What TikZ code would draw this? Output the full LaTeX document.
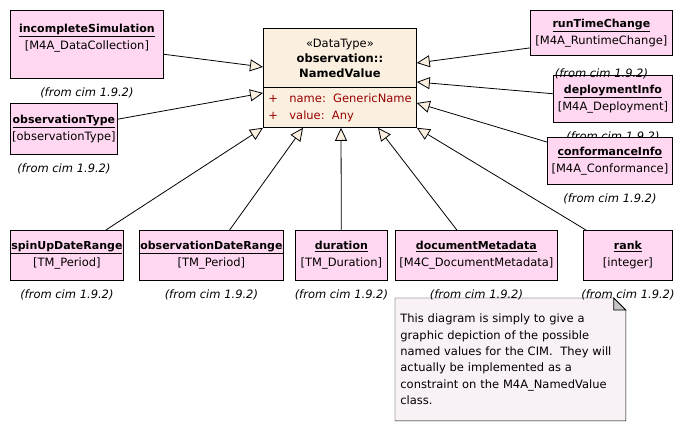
\documentclass[tikz,border=0pt]{standalone}
\usepackage{fontspec}
\setmainfont{DejaVu Sans}
\usetikzlibrary{positioning,arrows.meta,backgrounds}

\definecolor{clspink}{RGB}{255,215,240}
\definecolor{dtcream}{RGB}{251,240,224}
\definecolor{notefill}{RGB}{248,241,246}
\definecolor{attrred}{RGB}{153,0,0}

\newcommand{\clsname}[1]{\underline{\fontsize{11}{17}\selectfont\bfseries #1}}

\begin{document}
\begin{tikzpicture}[
            x=1pt, y=-1pt,
            cls/.style={draw,fill=clspink,rectangle,anchor=north west,inner sep=0pt,minimum height=50pt,align=center,font=\fontsize{11.5}{17}\selectfont},
            dt/.style={draw,fill=dtcream,rectangle,anchor=north west,inner sep=0pt},
            from/.style={inner sep=0pt,font=\fontsize{11.5}{14}\selectfont\itshape},
            attr/.style={anchor=west,inner sep=0pt,align=left,text=attrred,font=\fontsize{11.5}{17}\selectfont},
            gen/.style={-{Triangle[length=13pt,width=12pt,fill=dtcream]}},
            line width=0.8pt
        ]

        \tikzset{
            node distance=9pt,
        }

        \useasboundingbox (0,0) rectangle (682,430);

        % the data type
        \node[dt,minimum width=153pt,minimum height=99pt] (nv) at (263,28) {};
        \node[align=center,font=\fontsize{11.5}{15}\selectfont] (nv-head) at ([yshift=-30pt]nv.north) {«DataType»\\\textbf{observation::}\\\textbf{NamedValue}};
        \draw ([yshift=-59pt]nv.north west) -- ([yshift=-59pt]nv.north east);
        \node[attr] (nv-attr) at ([xshift=5pt,yshift=-80pt]nv.north west) {\makebox[21pt][l]{+}name:\ \ GenericName\\\makebox[21pt][l]{+}value:\ \ Any};

        % left
        \node[cls,minimum width=153pt,minimum height=68pt,text depth=16pt] (incsim) at (10,10) {\clsname{incompleteSimulation}\\{[M4A\_DataCollection]}};
        \node[from,below=of incsim] (incsim-from) {(from cim 1.9.2)};
        \node[cls,minimum width=107pt,minimum height=51pt] (obst) at (10,103) {\clsname{observationType}\\{[observationType]}};
        \node[from,below=of obst] (obst-from) {(from cim 1.9.2)};

        % right
        \node[cls,minimum width=142pt,minimum height=45pt] (rtc) at (530,10) {\clsname{runTimeChange}\\{[M4A\_RuntimeChange]}};
        \node[cls,minimum width=119pt,minimum height=47pt] (dep) at (553,75) {\clsname{deploymentInfo}\\{[M4A\_Deployment]}};
        \node[from,below=13pt of rtc] (rtc-from) {(from cim 1.9.2)};
        \node[from,below=of dep] (dep-from) {(from cim 1.9.2)};
        \node[cls,minimum width=125pt,minimum height=47pt] (conf) at (547,137) {\clsname{conformanceInfo}\\{[M4A\_Conformance]}};
        \node[from,below=of conf] (conf-from) {(from cim 1.9.2)};

        % bottom
        \node[cls,minimum width=113pt] (spin) at (10,230) {\clsname{spinUpDateRange}\\{[TM\_Period]}};
        \node[cls,minimum width=144pt] (odr) at (139,230) {\clsname{observationDateRange}\\{[TM\_Period]}};
        \node[cls,minimum width=92pt] (dur) at (295,230) {\clsname{duration}\\{[TM\_Duration]}};
        \node[cls,minimum width=162pt] (doc) at (395,230) {\clsname{documentMetadata}\\{[M4C\_DocumentMetadata]}};
        \node[cls,minimum width=89pt] (rank) at (583,230) {\clsname{rank}\\{[integer]}};
        \node[from,below=of spin] (spin-from) {(from cim 1.9.2)};
        \node[from,below=of odr] (odr-from) {(from cim 1.9.2)};
        \node[from,below=of dur] (dur-from) {(from cim 1.9.2)};
        \node[from,below=of doc] (doc-from) {(from cim 1.9.2)};
        \node[from,below=of rank] (rank-from) {(from cim 1.9.2)};

        % note
        \node[inner xsep=5pt,inner ysep=0pt,text width=220pt,minimum height=122pt,anchor=north west,align=left,font=\fontsize{11.5}{16.3}\selectfont] (note) at (395,298) {This diagram is simply to give a\\graphic depiction of the possible\\named values for the CIM.\ \ They will\\actually be implemented as a\\constraint on the M4A\_NamedValue\\class.};
        \begin{scope}[on background layer]
            \draw[fill=notefill] (note.north west) -- ([xshift=-12pt]note.north east) -- ([yshift=-12pt]note.north east) -- (note.south east) -- (note.south west) -- cycle;
        \end{scope}
        \draw[fill=gray!45] ([xshift=-12pt]note.north east) -- ([xshift=-12pt,yshift=-12pt]note.north east) -- ([yshift=-12pt]note.north east) -- cycle;

        \coordinate (t-incsim) at ([yshift=-39pt]nv.north west);
        \coordinate (t-obst) at ([yshift=-65pt]nv.north west);
        \coordinate (t-rtc) at ([yshift=-35pt]nv.north east);
        \coordinate (t-dep) at ([yshift=-54pt]nv.north east);
        \coordinate (t-conf) at ([yshift=-75pt]nv.north east);
        \coordinate (t-spin) at (nv.south west);
        \coordinate (t-odr) at ([xshift=40pt]nv.south west);
        \coordinate (t-dur) at ([xshift=78pt]nv.south west);
        \coordinate (t-doc) at ([xshift=115pt]nv.south west);
        \coordinate (t-rank) at (nv.south east);
        \coordinate (s-rtc) at ([yshift=-15pt]rtc.west);

        \path[gen]
        (incsim) edge (t-incsim)
        (obst) edge (t-obst)
        (s-rtc) edge (t-rtc)
        (dep) edge (t-dep)
        (conf) edge (t-conf)
        (spin) edge (t-spin)
        (odr) edge (t-odr)
        (dur) edge (t-dur)
        (doc) edge (t-doc)
        (rank) edge (t-rank)
        ;

    \end{tikzpicture}
\end{document}
